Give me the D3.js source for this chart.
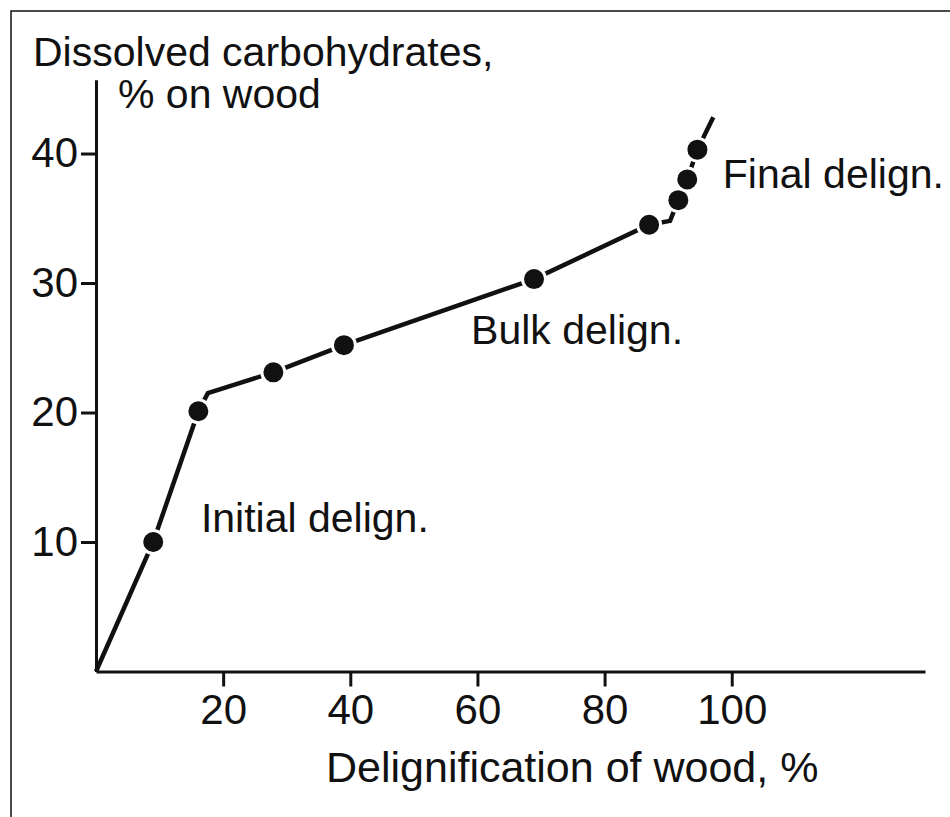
<!DOCTYPE html>
<html>
<head>
<meta charset="utf-8">
<script src="https://cdn.jsdelivr.net/npm/d3@7"></script>
<style>
  body { margin: 0; background: #fff; }
  svg { display: block; }
  text { font-family: 'Liberation Sans', Arial, sans-serif; fill: #111; }
</style>
</head>
<body>
<svg id="chart" width="950" height="817"></svg>
<script>
// measured points: delignification (%) vs dissolved carbohydrates (% on wood)
const delignification = [9.0, 16.1, 27.9, 39.0, 68.9, 87.0, 91.6, 93.0, 94.6]
const carbohydrates = [10.0, 20.1, 23.1, 25.2, 30.3, 34.5, 36.4, 38.0, 40.3]

// hand drawn curve through the points (with its two kinks)
const curveX = [0, 9.0, 16.1, 17.6, 27.9, 39.0, 68.9, 87.0, 90.3, 91.6, 93.0, 94.6, 97.1]
const curveY = [0, 10.0, 20.1, 21.5, 23.1, 25.2, 30.3, 34.5, 34.8, 36.4, 38.0, 40.3, 42.8]

const xTicks = [20, 40, 60, 80, 100]
const yTicks = [10, 20, 30, 40]

// phase labels, placed in data units
const phaseNames = ['Initial delign.', 'Bulk delign.', 'Final delign.']
const phaseX = [16.5, 59.0, 98.6]
const phaseY = [10.8, 25.3, 37.3]

const ink = '#111'
const svg = d3.select('#chart')

// frame (top and left edge only)
svg.append('path')
  .attr('d', 'M11,817V11H950')
  .attr('fill', 'none')
  .attr('stroke', ink)
  .attr('stroke-width', 1.5)

const x = d3.scaleLinear().domain([0, 130.4]).range([96, 925])
const y = d3.scaleLinear().domain([0, 45.7]).range([671.5, 79.7])

// x axis
const gx = svg.append('g')
  .attr('transform', `translate(0,${y(0)})`)
  .call(d3.axisBottom(x).tickValues(xTicks).tickSize(15).tickSizeOuter(0).tickPadding(8))
gx.selectAll('text').style('font-size', '42px').attr('fill', ink)

// y axis
const gy = svg.append('g')
  .attr('transform', `translate(${x(0)},0)`)
  .call(d3.axisLeft(y).tickValues(yTicks).tickSize(15).tickSizeOuter(0).tickPadding(3))
gy.selectAll('text').style('font-size', '42px').attr('fill', ink)

svg.selectAll('.domain, .tick line')
  .attr('stroke', ink)
  .attr('stroke-width', 3)

// axis titles
svg.append('text')
  .attr('x', 326).attr('y', 782)
  .style('font-size', '43px')
  .text('Delignification of wood, %')

svg.append('text')
  .attr('x', 33).attr('y', 66)
  .style('font-size', '41px')
  .text('Dissolved carbohydrates,')

svg.append('text')
  .attr('x', 118).attr('y', 108)
  .style('font-size', '41px')
  .text('% on wood')

// curve
const line = d3.line()
  .x(d => x(d[0]))
  .y(d => y(d[1]))

svg.append('path')
  .datum(d3.zip(curveX, curveY))
  .attr('d', line)
  .attr('fill', 'none')
  .attr('stroke', ink)
  .attr('stroke-width', 4.5)

// points, with a small white halo so the line looks broken around them
svg.selectAll('circle.pt')
  .data(d3.zip(delignification, carbohydrates))
  .join('circle')
  .attr('class', 'pt')
  .attr('cx', d => x(d[0]))
  .attr('cy', d => y(d[1]))
  .attr('r', 11.5)
  .attr('fill', ink)
  .attr('stroke', '#fff')
  .attr('stroke-width', 3)

// phase labels
svg.selectAll('text.phase')
  .data(phaseNames)
  .join('text')
  .attr('class', 'phase')
  .attr('x', (d, i) => x(phaseX[i]))
  .attr('y', (d, i) => y(phaseY[i]))
  .style('font-size', '41px')
  .text(d => d)
</script>
</body>
</html>
